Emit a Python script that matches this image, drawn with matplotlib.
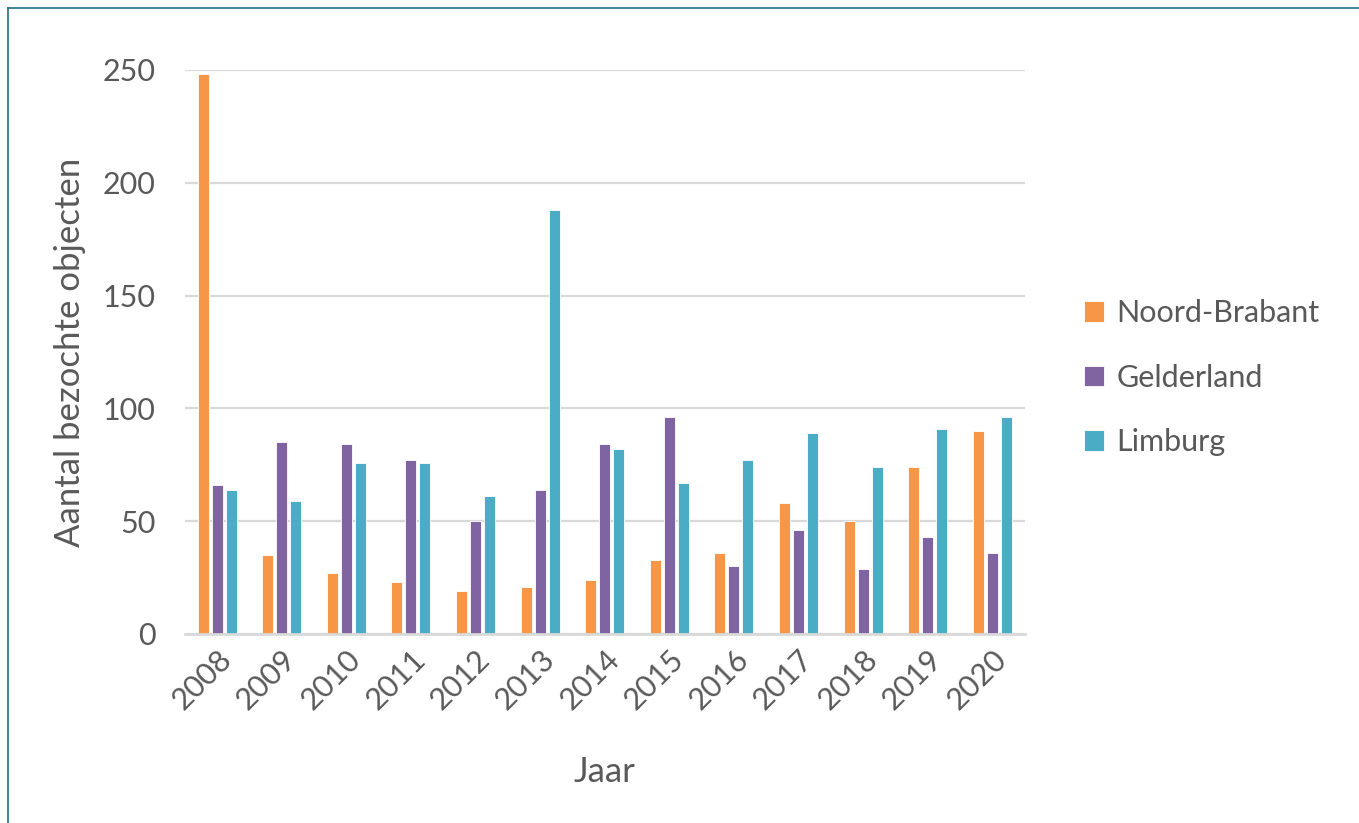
import numpy as np
import matplotlib.pyplot as plt
from matplotlib.lines import Line2D

plt.rcParams['font.family'] = ['Lato', 'DejaVu Sans']

years = ['2008', '2009', '2010', '2011', '2012', '2013', '2014',
         '2015', '2016', '2017', '2018', '2019', '2020']
noord_brabant = [248, 35, 27, 23, 19, 21, 24, 33, 36, 58, 50, 74, 90]
gelderland = [66, 85, 84, 77, 50, 64, 84, 96, 30, 46, 29, 43, 36]
limburg = [64, 59, 76, 76, 61, 188, 82, 67, 77, 89, 74, 91, 96]

series = [('Noord-Brabant', noord_brabant, '#F79646'),
          ('Gelderland', gelderland, '#8064A2'),
          ('Limburg', limburg, '#4BACC6')]

text_col = '#595959'

fig = plt.figure(figsize=(13.59, 8.23), dpi=100)
ax = fig.add_axes([0.136, 0.2297, 0.618, 0.6853])

x = np.arange(len(years))
w = 0.17
step = 0.217
for i, (name, vals, col) in enumerate(series):
    ax.bar(x + (i - 1) * step, vals, width=w, color=col, label=name,
           edgecolor='white', linewidth=0.6, zorder=3)

ax.set_xlim(-0.5, len(years) - 0.5)
ax.set_ylim(0, 250)
ax.set_yticks([0, 50, 100, 150, 200, 250])
ax.yaxis.grid(True, color='#D9D9D9', linewidth=1.6, zorder=0)
for s in ['top', 'right', 'left']:
    ax.spines[s].set_visible(False)
ax.spines['bottom'].set_color('#D9D9D9')
ax.spines['bottom'].set_linewidth(2)
ax.spines['bottom'].set_zorder(4)
ax.tick_params(axis='both', length=0, labelsize=22, labelcolor=text_col)
ax.tick_params(axis='y', pad=21)
ax.set_xticks(x)
ax.set_xticklabels(years, rotation=45, ha='right', rotation_mode='anchor')
ax.tick_params(axis='x', pad=8)

ax.set_xlabel('Jaar', fontsize=25, color=text_col, labelpad=30)
ax.set_ylabel('Aantal bezochte objecten', fontsize=25, color=text_col, labelpad=12)

leg = fig.legend(loc='center left', bbox_to_anchor=(0.7775, 0.541), frameon=False,
                 fontsize=22, labelcolor=text_col, handlelength=0.65, handleheight=0.65,
                 handletextpad=0.4, labelspacing=1.2)

# thin frame around the chart
fig.add_artist(Line2D([8 / 1359, 8 / 1359], [0, 1 - 8 / 823], color='#1F6F80', linewidth=1.2))
fig.add_artist(Line2D([8 / 1359, 1], [1 - 8 / 823, 1 - 8 / 823], color='#1F6F80', linewidth=1.2))

fig.savefig('out.png', dpi=100)
